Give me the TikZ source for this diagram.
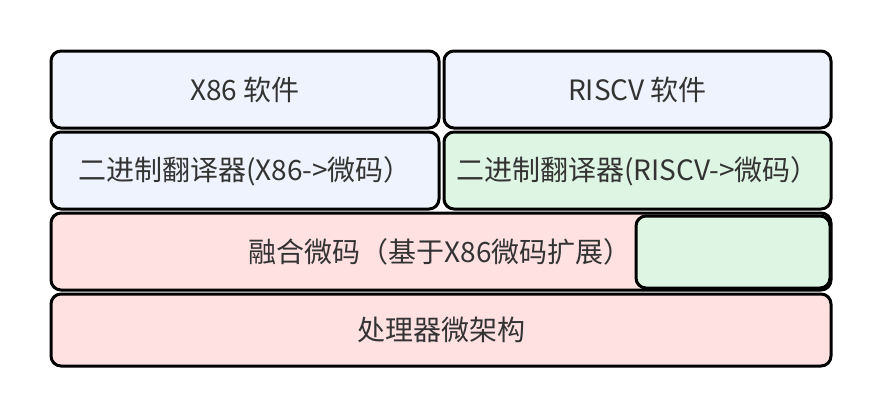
\documentclass[tikz,border=0pt]{standalone}
\usepackage{fontspec}
\setmainfont{Noto Sans CJK SC}
\definecolor{bluefill}{HTML}{EEF3FD}
\definecolor{greenfill}{HTML}{DEF5E3}
\definecolor{pinkfill}{HTML}{FFE1E1}
\definecolor{txt}{HTML}{333333}
\begin{document}
\begin{tikzpicture}[x=1pt,y=-1pt,
  blk/.style={draw=black,line width=3pt,rounded corners=10pt},
  lbl/.style={text=txt,font=\fontsize{28}{32}\selectfont,anchor=center,inner sep=0pt}]
\useasboundingbox (0,0) rectangle (880,416);
\draw[blk,fill=bluefill] (51,51) rectangle (439,128);
\draw[blk,fill=bluefill] (444,51) rectangle (831,128);
\draw[blk,fill=bluefill] (51,132) rectangle (439,209);
\draw[blk,fill=greenfill] (444,132) rectangle (831,209);
\draw[blk,fill=pinkfill] (51,213) rectangle (831,290);
\draw[blk,fill=greenfill] (636,216) rectangle (830,288);
\draw[blk,fill=pinkfill] (51,294) rectangle (831,366);
\node[lbl] (a) at (245,90) {X86 软件};
\node[lbl] (b) at (637.5,90) {RISCV 软件};
\node[lbl] (c) at (245,171) {二进制翻译器(X86->微码）};
\node[lbl] (d) at (637.5,171) {二进制翻译器(RISCV->微码）};
\node[lbl] (e) at (440,252) {融合微码（基于X86微码扩展）};
\node[lbl] (g) at (441,330) {处理器微架构};
\end{tikzpicture}
\end{document}
